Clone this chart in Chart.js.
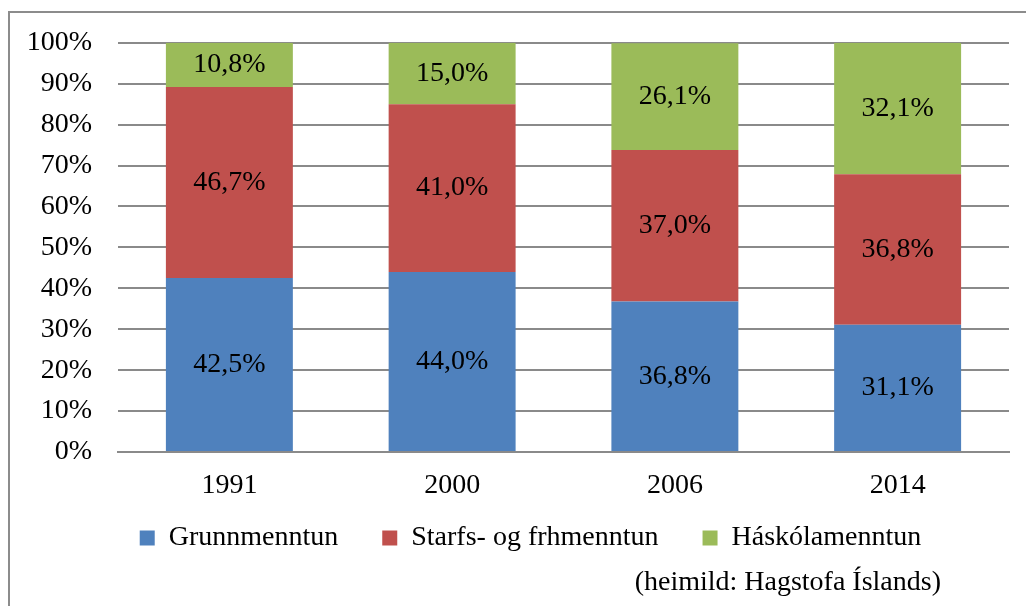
<!DOCTYPE html>
<html>
<head>
<meta charset="utf-8">
<script src="https://cdn.jsdelivr.net/npm/chart.js@4"></script>
<style>
  html, body { margin: 0; padding: 0; background: #fff; }
  #wrap { width: 1026px; height: 606px; }
</style>
</head>
<body>
<div id="wrap"><canvas id="eduChart" width="1026" height="606"></canvas></div>
<script>
// Data
const years = ['1991', '2000', '2006', '2014'];
const grunn = [42.5, 44.0, 36.8, 31.1];
const starfs = [46.7, 41.0, 37.0, 36.8];
const haskoli = [10.8, 15.0, 26.1, 32.1];
const seriesNames = ['Grunnmenntun', 'Starfs- og frhmenntun', 'Háskólamenntun'];
const yTicks = [0, 10, 20, 30, 40, 50, 60, 70, 80, 90, 100];
const sourceNote = '(heimild: Hagstofa Íslands)';

const fontFamily = "'Liberation Serif', 'DejaVu Serif', serif";
const fontSize = 28;
const gridColor = '#8a8a8a';

function fmtPct(v) {
  return v.toFixed(1).replace('.', ',') + '%';
}

// labels in the middle of each segment
const segmentLabels = {
  id: 'segmentLabels',
  afterDatasetsDraw(chart) {
    const ctx = chart.ctx;
    ctx.save();
    ctx.font = fontSize + 'px ' + fontFamily;
    ctx.fillStyle = '#000';
    ctx.textAlign = 'center';
    ctx.textBaseline = 'middle';
    chart.data.datasets.forEach((ds, i) => {
      const meta = chart.getDatasetMeta(i);
      meta.data.forEach((bar, j) => {
        ctx.fillText(fmtPct(ds.data[j]), bar.x, (bar.y + bar.base) / 2);
      });
    });
    ctx.restore();
  }
};

// outer frame + source note
const frameAndNote = {
  id: 'frameAndNote',
  afterLayout(chart) {
    // nudge the legend: a bit right of centre and closer to the axis labels
    const lg = chart.legend;
    lg.left += 26;
    lg.right += 26;
    lg.top -= 22;
    lg.bottom -= 22;
  },
  beforeDraw(chart) {
    const ctx = chart.ctx;
    ctx.save();
    ctx.strokeStyle = '#8c8c8c';
    ctx.lineWidth = 2;
    ctx.strokeRect(9, 12, 2000, 2000);
    ctx.restore();
  },
  afterDraw(chart) {
    const ctx = chart.ctx;
    ctx.save();
    ctx.font = fontSize + 'px ' + fontFamily;
    ctx.fillStyle = '#000';
    ctx.textAlign = 'right';
    ctx.textBaseline = 'middle';
    ctx.fillText(sourceNote, 941, 583);
    ctx.restore();
  }
};

new Chart(document.getElementById('eduChart'), {
  type: 'bar',
  data: {
    labels: years,
    datasets: [
      { label: seriesNames[0], data: grunn, backgroundColor: '#4F81BD' },
      { label: seriesNames[1], data: starfs, backgroundColor: '#C0504D' },
      { label: seriesNames[2], data: haskoli, backgroundColor: '#9BBB59' }
    ]
  },
  options: {
    responsive: false,
    animation: false,
    barPercentage: 0.57,
    categoryPercentage: 1,
    layout: {
      padding: { top: 41, right: 17, left: 0, bottom: 22 }
    },
    plugins: {
      tooltip: { enabled: false },
      legend: {
        position: 'bottom',
        labels: {
          boxWidth: 15,
          boxHeight: 15,
          padding: 44,
          color: '#000',
          font: { size: fontSize, family: fontFamily }
        }
      }
    },
    scales: {
      x: {
        stacked: true,
        grid: { display: false, drawTicks: false },
        border: { display: true, color: gridColor, width: 2 },
        ticks: {
          color: '#000',
          padding: 17,
          font: { size: fontSize, family: fontFamily }
        },
        afterFit(scale) { scale.height = 50; }
      },
      y: {
        stacked: true,
        min: 0,
        max: 100,
        grid: { color: gridColor, lineWidth: 2, drawTicks: false },
        border: { display: false },
        afterBuildTicks(scale) {
          scale.ticks = yTicks.map(v => ({ value: v }));
        },
        ticks: {
          color: '#000',
          padding: 26,
          font: { size: fontSize, family: fontFamily },
          callback: v => v + '%'
        },
        afterFit(scale) { scale.width = 118; }
      }
    }
  },
  plugins: [segmentLabels, frameAndNote]
});
</script>
</body>
</html>
